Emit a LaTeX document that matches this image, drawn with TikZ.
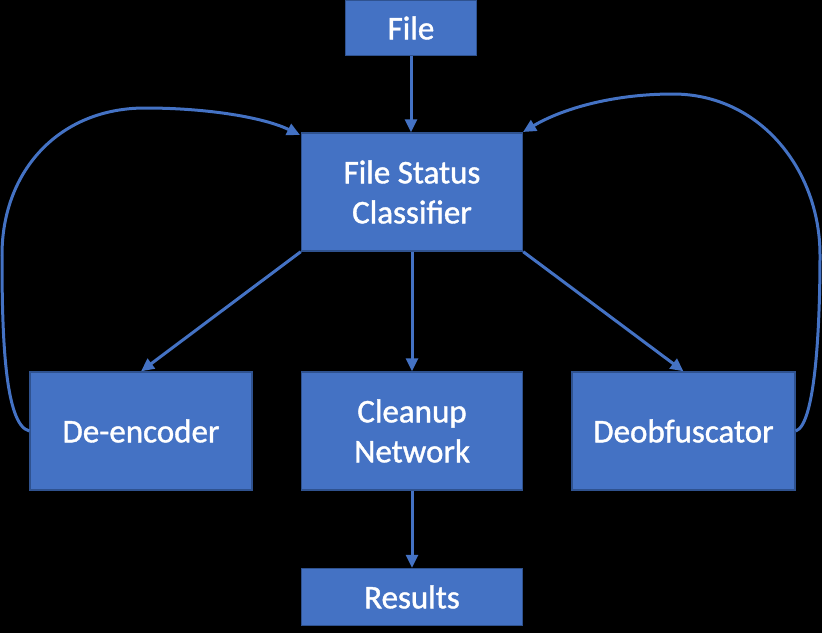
\documentclass[tikz,border=0pt]{standalone}
\usepackage{fontspec}
\setmainfont[FakeBold=1.2]{Carlito}
\usetikzlibrary{arrows.meta}
\definecolor{boxblue}{HTML}{4472C4}
\definecolor{boxedge}{HTML}{2F528F}
\begin{document}
\begin{tikzpicture}[x=1pt,y=-1pt,
  box/.style={draw=boxedge, line width=1.4pt, fill=boxblue, text=white, align=center,
    font=\fontsize{33}{40}\selectfont, inner sep=0pt},
  conn/.style={draw=boxblue, line width=3pt, -{Triangle[length=13pt,width=12pt]}},
  loopc/.style={draw=boxblue, line width=3pt, -{Triangle[length=13pt,width=12pt]}}]
\fill[black] (0,0) rectangle (822,633);
\useasboundingbox (0,0) rectangle (822,633);

\node[box, minimum width=131pt, minimum height=55pt] (file) at (411,28) {File};
\node[box, minimum width=221pt, minimum height=118pt] (cls) at (412,192) {File Status\\Classifier};
\node[box, minimum width=222pt, minimum height=118pt] (dec) at (141,431) {De-encoder};
\node[box, minimum width=221pt, minimum height=118pt] (clean) at (412,431) {Cleanup\\Network};
\node[box, minimum width=223pt, minimum height=118pt] (deob) at (683.5,431) {Deobfuscator};
\node[box, minimum width=221pt, minimum height=57pt] (res) at (412,597) {Results};

\coordinate (ltip) at (300,135);
\coordinate (rtip) at (523,132);

\draw[conn] (file.south) -- (file.south |- cls.north);
\draw[conn] (cls.south west) -- (dec.north);
\draw[conn] (cls.south) -- (clean.north);
\draw[conn] (cls.south east) -- (deob.north);
\draw[conn] (clean.south) -- (res.north);

\draw[loopc] (dec.west) .. controls (4,425) and (2,330) .. (2,255)
  .. controls (2,170) and (60,108) .. (145,108)
  .. controls (210,108) and (265,118) .. (ltip);
\draw[loopc] (deob.east) .. controls (815,425) and (820,330) .. (820,255)
  .. controls (820,170) and (760,94) .. (673,94)
  .. controls (610,94) and (560,110) .. (rtip);
\end{tikzpicture}
\end{document}
